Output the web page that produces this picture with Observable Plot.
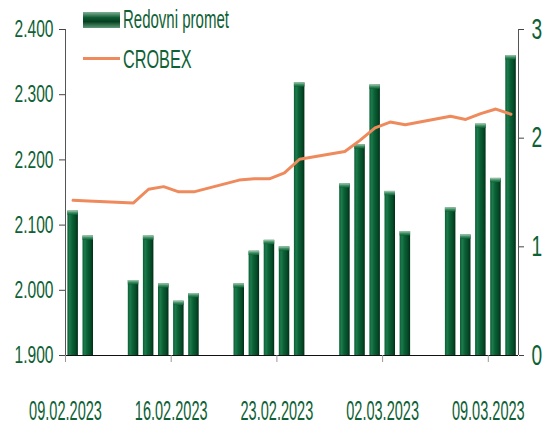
<!DOCTYPE html>
<html><head><meta charset="utf-8">
<script src="https://cdn.jsdelivr.net/npm/d3@7"></script>
<script src="https://cdn.jsdelivr.net/npm/@observablehq/plot@0.6"></script>
<style>
body{margin:0;background:#fff;}
#wrap{position:relative;width:549px;height:426px;font-family:"Liberation Sans",Arial,sans-serif;color:#0e6135;}
.sw{position:absolute;}
.lt{position:absolute;font-size:25px;line-height:25px;white-space:nowrap;transform:scaleX(0.6);transform-origin:0 0;}
</style></head><body><div id="wrap"></div>
<script>
const dates = ["2023-02-09","2023-02-10","2023-02-13","2023-02-14","2023-02-15","2023-02-16","2023-02-17",
  "2023-02-20","2023-02-21","2023-02-22","2023-02-23","2023-02-24","2023-02-27","2023-02-28","2023-03-01",
  "2023-03-02","2023-03-03","2023-03-06","2023-03-07","2023-03-08","2023-03-09","2023-03-10"];
const promet = [1.33,1.10,0.69,1.10,0.66,0.50,0.57,0.66,0.96,1.06,1.00,2.51,1.58,1.94,2.49,1.51,1.14,1.36,1.11,2.13,1.63,2.76];
const crobex = [2138,2137,2134,2155,2159,2151,2151,2169,2171,2171,2180,2201,2213,2230,2249,2258,2254,2267,2262,2271,2278,2270];
const leftTicks = [1900,2000,2100,2200,2300,2400];
const rightTicks = [0,1,2,3];
const xTicks = ["2023-02-09","2023-02-16","2023-02-23","2023-03-02","2023-03-09"];
const xDomain = ["2023-02-09","2023-03-11"];
const seriesNames = ["Redovni promet","CROBEX"];

const DAY = 864e5;
const parse = s => new Date(s + "T00:00:00Z");
const data = dates.map((d,i)=>({date: parse(d), promet: promet[i], crobex: crobex[i]}));
const cMin = leftTicks[0], cMax = leftTicks[leftTicks.length-1], pMax = rightTicks[rightTicks.length-1];
const toY = v => (v - cMin)/(cMax-cMin)*pMax;
const hr = d3.formatLocale({decimal:",", thousands:".", grouping:[3], currency:["",""]});
const fmt = hr.format(",");
const textColor = "#0e6135";

const plot = Plot.plot({
  width:549, height:426, marginLeft:65, marginRight:31, marginTop:29, marginBottom:71,
  style:{fontFamily:"Liberation Sans, Arial, sans-serif", background:"#fff", overflow:"visible"},
  x:{type:"utc", domain: xDomain.map(parse), axis:null},
  y:{domain:[0,pMax], axis:null},
  marks:[
    Plot.rectY(data,{x1:"date", x2:d=>new Date(+d.date+DAY), y:"promet", insetLeft:2.4, insetRight:2.2, fill:"url(#barGrad)"}),
    Plot.rectY(data,{x1:"date", x2:d=>new Date(+d.date+DAY), y1:d=>d.promet-0.04, y2:"promet", insetLeft:2.4, insetRight:2.2, fill:"url(#capGrad)"}),
    Plot.lineY(data,{x:d=>new Date(+d.date+DAY/2), y:d=>toY(d.crobex), stroke:"#ee8a5c", strokeWidth:3, strokeLinejoin:"round"}),
    Plot.ruleY([0],{stroke:"#111"}),
    Plot.ruleX([parse(xDomain[0])],{stroke:"#555"}),
    Plot.ruleX([parse(xDomain[1])],{stroke:"#555"}),
    Plot.axisY(leftTicks.map(toY),{anchor:"left", label:null, tickSize:6, tickPadding:6, fontSize:24, stroke:"#444", fill:textColor,
      tickFormat:v=>fmt(Math.round(cMin + v/pMax*(cMax-cMin)))}),
    Plot.axisY(rightTicks,{anchor:"right", label:null, tickSize:5, tickPadding:8, fontSize:29, stroke:"#444", fill:textColor, tickFormat:d=>String(d)}),
    Plot.axisX(xTicks.map(parse),{anchor:"bottom", label:null, tickSize:7, tickPadding:38, fontSize:28, stroke:"#999", fill:textColor,
      tickFormat:d3.utcFormat("%d.%m.%Y")})
  ]
});

const svg = d3.select(plot);
const defs = svg.insert("defs", ":first-child");
const bg = defs.append("linearGradient").attr("id","barGrad").attr("x1",0).attr("x2",1).attr("y1",0).attr("y2",0);
[[0,"#0b5e34"],[0.22,"#1c7a4b"],[0.45,"#0b6236"],[0.78,"#054a27"],[1,"#002e17"]]
  .forEach(([o,c])=>bg.append("stop").attr("offset",o).attr("stop-color",c));
const cg = defs.append("linearGradient").attr("id","capGrad").attr("x1",0).attr("x2",0).attr("y1",0).attr("y2",1);
[[0,"#a9cfb6"],[0.5,"#3f8f62"],[1,"#0b6236"]].forEach(([o,c])=>cg.append("stop").attr("offset",o).attr("stop-color",c));

// horizontal compression of tick labels (narrow typeface look)
const scaleByFont = {"24":0.65, "29":0.66, "28":0.52};
svg.selectAll("g[aria-label$='tick label']").each(function(){
  const g = this;
  const fs = g.getAttribute("font-size");
  const s = scaleByFont[fs] || 0.7;
  d3.select(g).selectAll("text").each(function(){
    const t = this;
    let tr = t.getAttribute("transform");
    if (!tr) {
      const x = +(t.getAttribute("x")||0), y = +(t.getAttribute("y")||0);
      t.removeAttribute("x"); t.removeAttribute("y");
      tr = `translate(${x},${y})`;
    }
    t.setAttribute("transform", tr + ` scale(${s},1)`);
  });
});

const wrap = document.getElementById("wrap");
wrap.appendChild(plot);

// legend
const sw1 = document.createElement("div");
sw1.className = "sw";
Object.assign(sw1.style,{left:"83px",top:"12px",width:"37px",height:"16px",
  background:"linear-gradient(to bottom,#7fb295 0%,#0d5a31 35%,#063f20 60%,#5d9a77 100%)"});
wrap.appendChild(sw1);
const sw2 = document.createElement("div");
sw2.className = "sw";
Object.assign(sw2.style,{left:"83px",top:"57px",width:"37px",height:"3px",background:"#ee8a5c"});
wrap.appendChild(sw2);
const t1 = document.createElement("div"); t1.className="lt"; t1.textContent=seriesNames[0];
Object.assign(t1.style,{left:"123px",top:"7px"}); wrap.appendChild(t1);
const t2 = document.createElement("div"); t2.className="lt"; t2.textContent=seriesNames[1];
Object.assign(t2.style,{left:"123px",top:"47px",transform:"scaleX(0.65)"}); wrap.appendChild(t2);
</script></body></html>
